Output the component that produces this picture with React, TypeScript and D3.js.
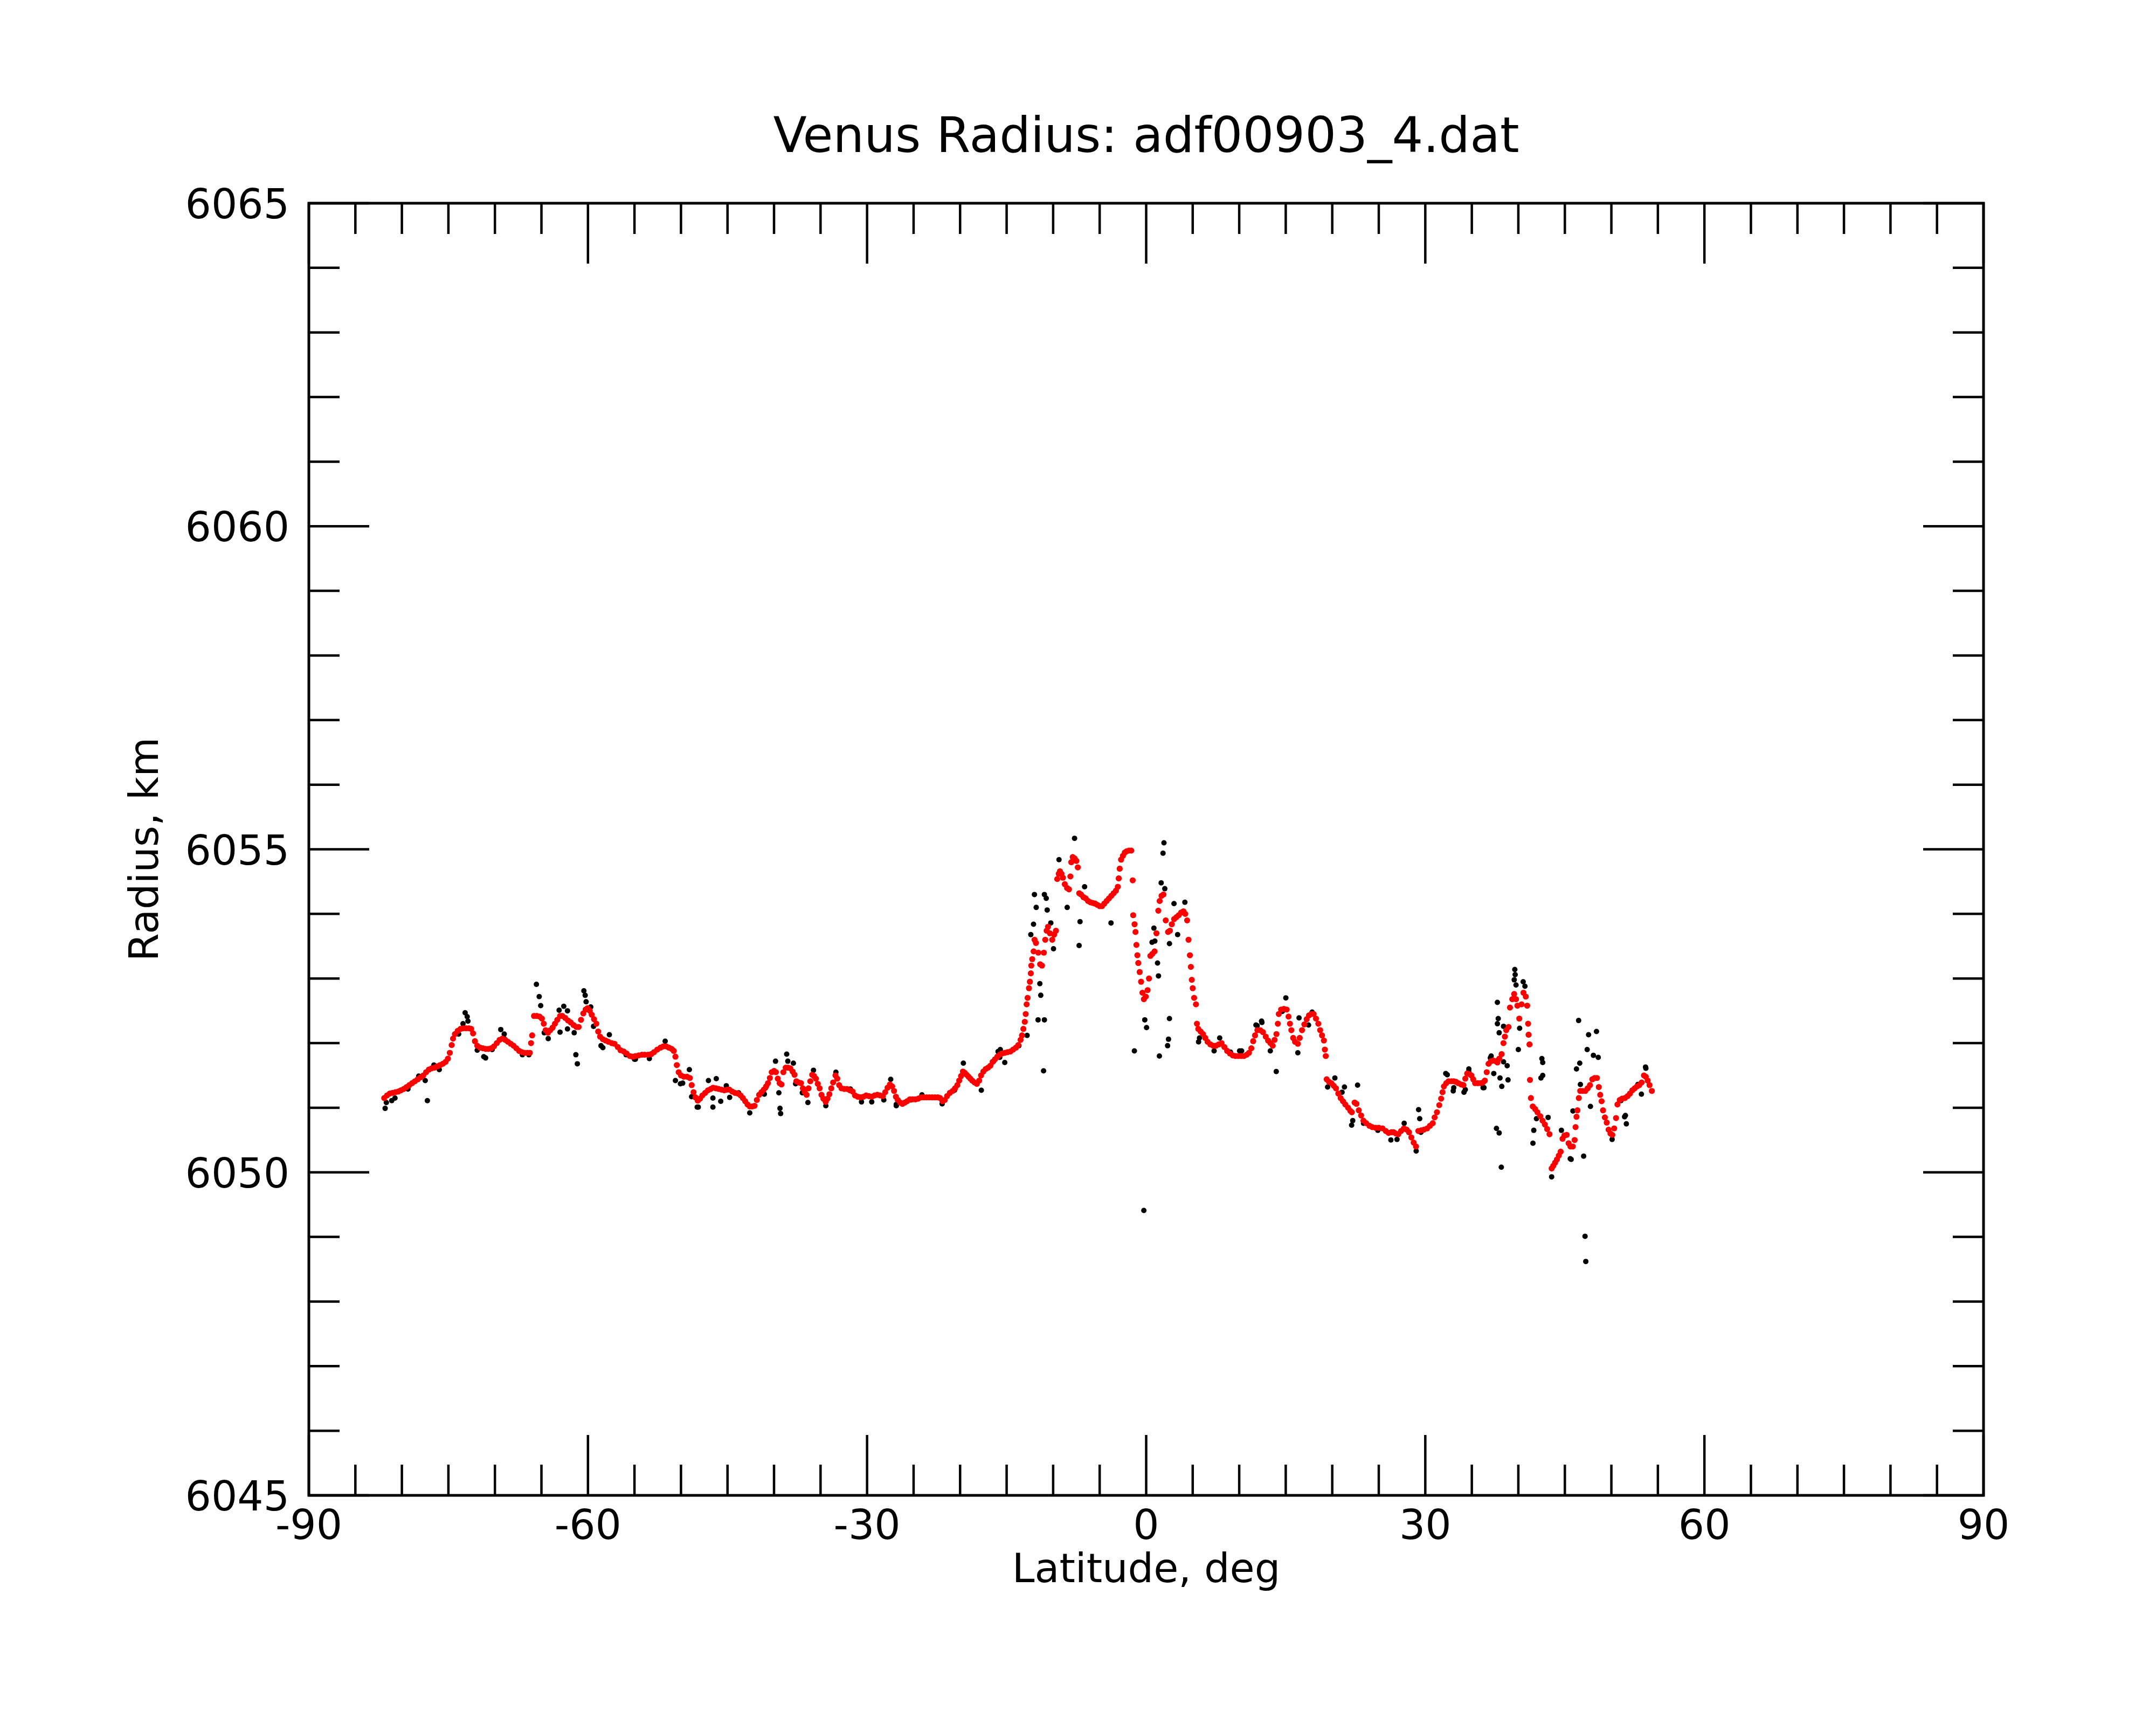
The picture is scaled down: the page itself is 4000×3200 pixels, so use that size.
import React from 'react';
import * as d3 from 'd3';

// smoothed radius (red), [latitude deg, radius km]
const smoothSouth: [number, number][] = [
  [-81.9, 6051.15], [-81.6, 6051.19], [-81.3, 6051.22], [-81.0, 6051.23], [-80.7, 6051.24], [-80.4, 6051.25],
  [-80.1, 6051.27], [-79.8, 6051.29], [-79.5, 6051.32], [-79.2, 6051.35], [-78.9, 6051.38], [-78.6, 6051.41],
  [-78.3, 6051.44], [-78.0, 6051.47], [-77.7, 6051.5], [-77.4, 6051.55], [-77.1, 6051.59], [-76.8, 6051.61],
  [-76.5, 6051.62], [-76.2, 6051.64], [-75.9, 6051.66], [-75.6, 6051.68], [-75.3, 6051.71], [-75.05, 6051.76],
  [-74.85, 6051.85], [-74.65, 6051.97], [-74.5, 6052.07], [-74.3, 6052.14], [-74.0, 6052.19], [-73.7, 6052.22],
  [-73.4, 6052.23], [-73.1, 6052.23], [-72.8, 6052.23], [-72.55, 6052.22], [-72.35, 6052.15], [-72.15, 6052.03],
  [-71.9, 6051.96], [-71.6, 6051.93], [-71.3, 6051.92], [-71.0, 6051.91], [-70.7, 6051.91], [-70.4, 6051.92],
  [-70.1, 6051.95], [-69.8, 6052.0], [-69.5, 6052.05], [-69.2, 6052.07], [-68.9, 6052.05], [-68.6, 6052.02],
  [-68.3, 6051.99], [-68.0, 6051.96], [-67.7, 6051.92], [-67.4, 6051.88], [-67.1, 6051.86], [-66.8, 6051.85],
  [-66.5, 6051.85], [-66.25, 6051.85], [-66.12, 6052.0], [-66.0, 6052.12], [-65.8, 6052.42], [-65.5, 6052.42],
  [-65.2, 6052.41], [-64.95, 6052.38], [-64.75, 6052.3], [-64.55, 6052.2], [-64.3, 6052.16], [-64.05, 6052.2],
  [-63.8, 6052.24], [-63.55, 6052.3], [-63.3, 6052.36], [-63.0, 6052.42], [-62.75, 6052.42], [-62.45, 6052.39],
  [-62.15, 6052.35], [-61.85, 6052.32], [-61.55, 6052.28], [-61.25, 6052.25], [-61.0, 6052.25], [-60.75, 6052.36],
  [-60.5, 6052.46], [-60.25, 6052.52], [-60.05, 6052.54], [-59.8, 6052.5], [-59.6, 6052.44], [-59.35, 6052.37],
  [-59.1, 6052.3], [-58.9, 6052.18], [-58.7, 6052.1], [-58.4, 6052.06], [-58.1, 6052.04], [-57.8, 6052.02],
  [-57.45, 6052.0], [-57.15, 6051.99], [-56.8, 6051.94], [-56.5, 6051.89], [-56.15, 6051.87], [-55.85, 6051.84],
  [-55.5, 6051.8], [-55.2, 6051.79], [-54.9, 6051.8], [-54.55, 6051.81], [-54.2, 6051.82], [-53.9, 6051.82],
  [-53.55, 6051.82], [-53.2, 6051.83], [-52.9, 6051.86], [-52.55, 6051.9], [-52.2, 6051.93], [-51.9, 6051.95],
  [-51.6, 6051.95], [-51.3, 6051.93], [-51.0, 6051.91], [-50.78, 6051.88], [-50.6, 6051.79], [-50.45, 6051.66],
  [-50.25, 6051.55], [-50.0, 6051.5], [-49.7, 6051.48], [-49.35, 6051.48], [-49.05, 6051.46], [-48.85, 6051.35],
  [-48.65, 6051.24], [-48.45, 6051.16], [-48.2, 6051.11], [-47.95, 6051.14], [-47.7, 6051.19], [-47.4, 6051.23],
  [-47.1, 6051.27], [-46.8, 6051.29], [-46.55, 6051.31], [-46.25, 6051.3], [-45.95, 6051.29], [-45.65, 6051.28],
  [-45.35, 6051.27], [-45.05, 6051.28], [-44.8, 6051.28], [-44.5, 6051.25], [-44.2, 6051.23], [-43.9, 6051.22],
  [-43.6, 6051.19], [-43.35, 6051.15], [-43.1, 6051.1], [-42.85, 6051.05], [-42.6, 6051.02], [-42.35, 6051.02],
  [-42.1, 6051.03], [-41.85, 6051.12], [-41.6, 6051.2], [-41.35, 6051.24], [-41.1, 6051.28], [-40.85, 6051.33],
  [-40.65, 6051.38], [-40.45, 6051.46], [-40.25, 6051.55], [-40.0, 6051.57], [-39.8, 6051.55], [-39.6, 6051.45],
  [-39.4, 6051.38], [-39.2, 6051.36], [-39.0, 6051.55], [-38.75, 6051.62], [-38.5, 6051.62], [-38.25, 6051.61],
  [-38.0, 6051.56], [-37.8, 6051.51], [-37.6, 6051.41], [-37.35, 6051.39], [-37.1, 6051.38], [-36.9, 6051.3],
  [-36.7, 6051.24], [-36.5, 6051.2], [-36.3, 6051.3], [-36.1, 6051.41], [-35.9, 6051.51], [-35.7, 6051.49],
  [-35.5, 6051.45], [-35.3, 6051.37], [-35.1, 6051.3], [-34.9, 6051.2], [-34.7, 6051.14], [-34.45, 6051.09],
  [-34.25, 6051.14], [-34.05, 6051.21], [-33.85, 6051.3], [-33.65, 6051.39], [-33.4, 6051.5], [-33.2, 6051.45],
  [-33.0, 6051.35], [-32.75, 6051.3], [-32.45, 6051.29], [-32.15, 6051.29], [-31.85, 6051.27], [-31.55, 6051.25],
  [-31.3, 6051.19], [-31.0, 6051.17], [-30.7, 6051.16], [-30.4, 6051.17], [-30.1, 6051.19], [-29.8, 6051.18],
  [-29.5, 6051.17], [-29.2, 6051.19], [-28.9, 6051.2], [-28.6, 6051.19], [-28.3, 6051.18], [-28.05, 6051.24],
  [-27.8, 6051.31], [-27.55, 6051.36], [-27.3, 6051.33], [-27.1, 6051.26], [-26.9, 6051.17], [-26.7, 6051.12],
  [-26.45, 6051.08], [-26.2, 6051.06], [-25.95, 6051.08], [-25.7, 6051.1], [-25.4, 6051.13], [-25.1, 6051.13],
  [-24.8, 6051.13], [-24.5, 6051.14], [-24.2, 6051.16], [-23.9, 6051.16], [-23.6, 6051.16], [-23.3, 6051.16],
  [-23.0, 6051.16], [-22.7, 6051.16], [-22.4, 6051.16], [-22.15, 6051.15], [-21.9, 6051.1], [-21.65, 6051.12],
  [-21.4, 6051.18], [-21.1, 6051.23], [-20.8, 6051.26], [-20.55, 6051.3], [-20.3, 6051.35], [-20.1, 6051.42],
  [-19.9, 6051.49], [-19.7, 6051.56], [-19.5, 6051.54], [-19.3, 6051.51], [-19.1, 6051.48], [-18.9, 6051.45],
  [-18.7, 6051.42], [-18.45, 6051.39], [-18.2, 6051.37], [-17.95, 6051.42], [-17.75, 6051.5], [-17.5, 6051.56],
  [-17.25, 6051.6], [-17.0, 6051.62], [-16.75, 6051.65], [-16.5, 6051.71], [-16.25, 6051.75], [-16.0, 6051.79],
  [-15.75, 6051.82], [-15.5, 6051.84], [-15.2, 6051.85], [-14.9, 6051.86], [-14.6, 6051.87], [-14.3, 6051.9],
  [-14.0, 6051.93], [-13.75, 6051.97],
];

const smoothEquator: [number, number][] = [
  [-13.5, 6052.05], [-13.35, 6052.12], [-13.2, 6052.22], [-13.05, 6052.33], [-12.95, 6052.45], [-12.85, 6052.6],
  [-12.75, 6052.7], [-12.6, 6052.85], [-12.5, 6052.95], [-12.4, 6053.08], [-12.35, 6053.2], [-12.25, 6053.3],
  [-12.1, 6053.42], [-12.0, 6053.6], [-11.85, 6053.55], [-11.6, 6053.4], [-11.4, 6053.22], [-11.2, 6053.2],
  [-11.0, 6053.4], [-10.85, 6053.6], [-10.7, 6053.74], [-10.55, 6053.8], [-10.35, 6053.7], [-10.1, 6053.6],
  [-9.9, 6053.68], [-9.7, 6053.74], [-9.56, 6054.54], [-9.4, 6054.62], [-9.27, 6054.66], [-9.1, 6054.62],
  [-8.95, 6054.56], [-8.75, 6054.46], [-8.5, 6054.4], [-8.3, 6054.38], [-8.15, 6054.58], [-8.05, 6054.8],
  [-7.9, 6054.88], [-7.7, 6054.86], [-7.5, 6054.82], [-7.35, 6054.72], [-7.2, 6054.32], [-7.0, 6054.3],
  [-6.75, 6054.26], [-6.5, 6054.24], [-6.25, 6054.2], [-6.0, 6054.18], [-5.75, 6054.17], [-5.5, 6054.16],
  [-5.25, 6054.14], [-5.0, 6054.12], [-4.75, 6054.12], [-4.5, 6054.16], [-4.25, 6054.2], [-4.0, 6054.24],
  [-3.75, 6054.28], [-3.5, 6054.32], [-3.25, 6054.36], [-3.05, 6054.42], [-2.95, 6054.55], [-2.85, 6054.7],
  [-2.7, 6054.84], [-2.5, 6054.9], [-2.3, 6054.95], [-2.1, 6054.97], [-1.85, 6054.98], [-1.6, 6054.98],
  [-1.45, 6054.52], [-1.4, 6053.98], [-1.25, 6053.84], [-1.15, 6053.72], [-1.05, 6053.52], [-0.95, 6053.36],
  [-0.85, 6053.24], [-0.7, 6053.1], [-0.55, 6052.95], [-0.4, 6052.78], [-0.25, 6052.68], [-0.05, 6052.72],
  [0.15, 6052.82], [0.3, 6053.0], [0.45, 6053.35], [0.65, 6053.38], [0.9, 6053.42], [1.1, 6053.7],
  [1.3, 6054.05], [1.45, 6054.2], [1.65, 6054.28], [1.85, 6054.3], [2.1, 6053.9], [2.35, 6053.72],
  [2.55, 6053.74], [2.75, 6053.84], [3.0, 6053.92], [3.25, 6053.95], [3.5, 6053.98], [3.75, 6054.02],
  [4.0, 6054.04], [4.2, 6054.0], [4.4, 6053.9], [4.55, 6053.6], [4.7, 6053.36], [4.8, 6053.18],
  [4.9, 6052.98], [5.0, 6052.85], [5.15, 6052.7], [5.35, 6052.6], [5.45, 6052.3], [5.6, 6052.22],
  [5.85, 6052.18], [6.1, 6052.14], [6.35, 6052.08], [6.6, 6052.02], [6.9, 6051.98], [7.2, 6051.96],
  [7.5, 6051.96], [7.8, 6051.98], [8.1, 6052.0], [8.4, 6051.94], [8.7, 6051.88], [9.0, 6051.84],
  [9.3, 6051.81], [9.6, 6051.8], [9.9, 6051.8], [10.2, 6051.8], [10.5, 6051.8], [10.8, 6051.82],
  [11.05, 6051.85], [11.3, 6051.92], [11.5, 6052.03], [11.7, 6052.12], [11.95, 6052.2], [12.25, 6052.2],
  [12.55, 6052.17], [12.85, 6052.1], [13.1, 6052.04], [13.35, 6052.0], [13.6, 6051.96], [13.8, 6052.05],
  [14.0, 6052.14], [14.15, 6052.3], [14.25, 6052.45], [14.5, 6052.52], [14.8, 6052.53], [15.1, 6052.52],
  [15.3, 6052.41], [15.45, 6052.3], [15.6, 6052.2], [15.8, 6052.08], [16.0, 6052.02], [16.3, 6051.99],
  [16.5, 6052.08], [16.75, 6052.2], [17.0, 6052.29], [17.25, 6052.37], [17.5, 6052.43], [17.75, 6052.45],
  [18.0, 6052.45], [18.25, 6052.38], [18.5, 6052.3], [18.7, 6052.2], [18.9, 6052.12], [19.1, 6052.04],
  [19.2, 6051.9], [19.3, 6051.8],
];

const smoothNorth: [number, number][] = [
  [19.4, 6051.44], [19.65, 6051.4], [19.9, 6051.38], [20.15, 6051.34], [20.4, 6051.3], [20.65, 6051.22],
  [20.9, 6051.15], [21.15, 6051.1], [21.4, 6051.05], [21.7, 6051.0], [21.95, 6050.95], [22.1, 6050.93],
  [22.4, 6051.08], [22.6, 6051.06], [22.85, 6050.96], [23.1, 6050.88], [23.35, 6050.8], [23.65, 6050.76],
  [24.0, 6050.72], [24.3, 6050.7], [24.65, 6050.69], [25.0, 6050.69], [25.4, 6050.68], [25.75, 6050.64],
  [26.05, 6050.61], [26.35, 6050.62], [26.6, 6050.62], [26.85, 6050.6], [27.1, 6050.59], [27.4, 6050.64],
  [27.7, 6050.68], [28.0, 6050.66], [28.25, 6050.62], [28.5, 6050.54], [28.75, 6050.46], [29.0, 6050.4],
  [29.25, 6050.64], [29.55, 6050.65], [29.85, 6050.66], [30.2, 6050.68], [30.5, 6050.72], [30.8, 6050.76],
  [31.0, 6050.85], [31.25, 6050.93], [31.5, 6051.04], [31.7, 6051.14], [31.85, 6051.24], [32.0, 6051.33],
  [32.25, 6051.38], [32.5, 6051.41], [32.8, 6051.41], [33.05, 6051.41], [33.3, 6051.4], [33.55, 6051.38],
  [33.85, 6051.36], [34.1, 6051.35], [34.3, 6051.45], [34.5, 6051.53], [34.75, 6051.52], [34.95, 6051.5],
  [35.15, 6051.44], [35.35, 6051.38], [35.65, 6051.38], [35.95, 6051.38], [36.2, 6051.39], [36.4, 6051.42],
  [36.6, 6051.55], [36.8, 6051.68], [37.05, 6051.72], [37.3, 6051.73], [37.55, 6051.72], [37.75, 6051.7],
  [37.95, 6051.76], [38.2, 6051.83], [38.4, 6052.0], [38.55, 6052.1], [38.7, 6052.2], [38.95, 6052.25],
  [39.1, 6052.55], [39.35, 6052.68], [39.55, 6052.76], [39.75, 6052.68], [39.9, 6052.58], [40.1, 6052.38],
  [40.35, 6052.6], [40.55, 6052.78], [40.8, 6052.72], [40.95, 6052.58], [41.05, 6052.3], [41.1, 6052.13],
  [41.2, 6051.98], [41.25, 6051.43], [41.35, 6051.15], [41.55, 6051.02], [41.8, 6050.98], [42.05, 6050.93],
  [42.35, 6050.87], [42.6, 6050.8], [42.85, 6050.74], [43.1, 6050.67], [43.35, 6050.59], [43.58, 6050.06],
  [43.75, 6050.1], [43.95, 6050.15], [44.15, 6050.2], [44.35, 6050.26], [44.55, 6050.32], [44.75, 6050.52],
  [44.95, 6050.57], [45.2, 6050.58], [45.4, 6050.45], [45.6, 6050.4], [45.85, 6050.4], [46.05, 6050.5],
  [46.15, 6050.7], [46.25, 6050.86], [46.35, 6050.96], [46.5, 6051.15], [46.65, 6051.26], [46.9, 6051.26],
  [47.2, 6051.26], [47.45, 6051.3], [47.7, 6051.35], [47.95, 6051.44], [48.2, 6051.46], [48.45, 6051.46],
  [48.65, 6051.32], [48.8, 6051.2], [48.95, 6051.1], [49.1, 6050.96], [49.3, 6050.85], [49.5, 6050.77],
  [49.7, 6050.66], [49.9, 6050.6], [50.1, 6050.58], [50.3, 6050.68], [50.5, 6050.84], [50.65, 6051.05],
  [50.9, 6051.12], [51.15, 6051.14], [51.45, 6051.15], [51.75, 6051.18], [52.0, 6051.22], [52.25, 6051.27],
  [52.5, 6051.3], [52.75, 6051.33], [53.0, 6051.35], [53.25, 6051.39], [53.5, 6051.5], [53.7, 6051.48],
  [53.9, 6051.42], [54.1, 6051.35], [54.35, 6051.26],
];

// raw radius (black) that stands off the smoothed trace
const rawOutliers: [number, number][] = [
  [-81.8, 6050.99], [-77.26, 6051.11], [-73.2, 6052.47], [-72.98, 6052.41], [-72.9, 6052.34], [-73.43, 6052.3],
  [-71.2, 6051.79], [-69.37, 6052.21], [-69.0, 6052.14], [-65.54, 6052.91], [-65.24, 6052.72], [-65.08, 6052.58],
  [-64.27, 6052.07], [-63.0, 6052.17], [-63.1, 6052.51], [-62.6, 6052.57], [-62.2, 6052.5], [-61.48, 6052.16],
  [-61.3, 6051.82], [-61.14, 6051.68], [-60.44, 6052.81], [-60.3, 6052.74], [-60.2, 6052.64], [-59.7, 6052.56],
  [-59.4, 6052.26], [-58.4, 6051.93], [-57.7, 6052.13], [-55.0, 6051.75], [-51.7, 6052.03],
  [-49.82, 6051.38], [-49.1, 6051.59], [-48.26, 6051.01], [-47.05, 6051.42], [-46.21, 6051.45], [-46.57, 6051.15],
  [-46.57, 6051.01], [-45.73, 6051.1], [-45.13, 6051.34], [-42.61, 6050.92], [-41.04, 6051.21], [-39.84, 6051.72],
  [-38.64, 6051.83], [-38.52, 6051.72], [-37.92, 6051.69], [-39.48, 6051.23], [-39.36, 6050.99], [-39.29, 6050.91],
  [-36.36, 6051.08], [-35.76, 6051.58], [-33.35, 6051.55], [-27.46, 6051.44], [-26.86, 6051.05], [-19.65, 6051.69],
  [-17.72, 6051.27], [-15.68, 6051.9], [-15.2, 6051.7],
  [-7.7, 6055.17], [-9.37, 6054.84], [-12.01, 6054.3], [-11.82, 6054.1], [-10.94, 6054.3], [-10.74, 6054.24],
  [-10.64, 6054.06], [-12.11, 6053.84], [-10.25, 6053.86], [-9.96, 6053.46], [-11.43, 6052.92], [-11.33, 6052.74],
  [-11.62, 6052.36], [-10.94, 6052.36], [-12.8, 6052.12], [-11.03, 6051.57], [-8.49, 6054.1], [-6.62, 6054.42],
  [-7.11, 6053.88], [-7.21, 6053.51], [-3.78, 6053.86], [-12.4, 6053.68], [1.61, 6054.48], [1.91, 6055.1],
  [1.81, 6054.94], [2.0, 6054.39], [0.83, 6053.78], [0.63, 6053.56], [0.93, 6053.58], [1.22, 6053.24],
  [1.32, 6053.04], [2.5, 6053.54], [2.5, 6052.38], [-0.15, 6052.36], [0.04, 6052.24], [2.4, 6052.06],
  [2.3, 6051.96], [1.42, 6051.8], [-1.27, 6051.88], [-0.25, 6049.41], [2.99, 6054.16], [4.16, 6054.18],
  [3.38, 6053.68], [5.63, 6052.02], [12.4, 6052.34],
  [15.01, 6052.7], [12.44, 6052.32], [13.34, 6051.88], [13.98, 6051.56], [16.3, 6051.85], [17.45, 6052.28],
  [22.72, 6051.35], [21.31, 6051.32], [22.08, 6050.73], [29.28, 6050.97], [29.4, 6050.83], [27.73, 6050.76],
  [39.62, 6053.14], [39.66, 6053.06], [39.56, 6052.98], [39.75, 6052.9], [40.52, 6052.95], [40.71, 6052.88],
  [37.75, 6052.63], [37.84, 6052.38], [37.75, 6052.3], [37.94, 6052.16], [38.41, 6052.26], [40.14, 6052.23],
  [40.0, 6051.9], [38.41, 6051.71], [38.8, 6051.65], [37.36, 6051.53], [38.03, 6051.46], [38.89, 6051.43],
  [38.22, 6051.33], [42.53, 6051.76], [42.62, 6051.7], [42.62, 6051.5], [42.43, 6051.46], [37.65, 6050.68],
  [37.94, 6050.61], [38.17, 6050.08], [41.66, 6050.65], [41.57, 6050.45], [46.48, 6052.35], [47.55, 6052.13],
  [48.4, 6052.18], [47.4, 6051.9], [48.07, 6051.81], [48.59, 6051.78], [46.6, 6051.69], [46.25, 6051.6],
  [46.67, 6051.36], [47.75, 6051.02], [47.02, 6050.25], [45.58, 6050.21], [45.87, 6050.95], [47.17, 6049.01],
  [47.25, 6048.62], [51.61, 6050.75], [51.51, 6050.88], [53.67, 6051.63], [53.23, 6051.21], [50.08, 6050.51],
  [43.58, 6049.93], [45.68, 6050.2],
];

// raw radius (black) lying just beside the smoothed trace
const rawNearTrace: [number, number][] = [
  [-81.67, 6051.08], [-81.09, 6051.11], [-80.74, 6051.15], [-79.35, 6051.29], [-78.19, 6051.49], [-77.49, 6051.42],
  [-76.56, 6051.66], [-75.98, 6051.59], [-73.9, 6052.14], [-71.9, 6051.89], [-71.0, 6051.77], [-70.3, 6051.9],
  [-69.0, 6052.07], [-67.05, 6051.82], [-66.35, 6051.82], [-64.7, 6052.16], [-62.2, 6052.22], [-58.6, 6051.96],
  [-55.9, 6051.82], [-54.9, 6051.75], [-53.4, 6051.76], [-50.6, 6051.42],
  [-50.06, 6051.37], [-48.86, 6051.17], [-48.14, 6051.01], [-44.77, 6051.16], [-43.81, 6051.23], [-41.16, 6051.23],
  [-40.9, 6051.31], [-37.68, 6051.37], [-36.96, 6051.23], [-34.43, 6051.03], [-31.8, 6051.29], [-30.6, 6051.09],
  [-29.5, 6051.09], [-28.2, 6051.12], [-26.86, 6051.03], [-25.3, 6051.12], [-24.1, 6051.2], [-21.93, 6051.06],
  [-20.6, 6051.27], [-15.92, 6051.87], [-16.4, 6051.72], [-15.74, 6051.78], [-13.68, 6051.96],
  [5.73, 6052.08], [7.3, 6051.88], [7.9, 6052.08], [9.06, 6051.86], [10.04, 6051.88], [11.8, 6052.28],
  [10.26, 6051.88], [11.93, 6052.27], [14.63, 6052.49], [16.43, 6052.39], [17.84, 6052.48], [19.5, 6051.32],
  [20.28, 6051.46], [21.05, 6051.24], [22.2, 6050.8], [23.36, 6050.76], [24.9, 6050.65], [26.3, 6050.5],
  [26.96, 6050.51], [29.02, 6050.33], [29.53, 6050.62], [32.36, 6051.51], [33.0, 6051.26], [34.16, 6051.24],
  [34.67, 6051.56], [36.21, 6051.31], [36.99, 6051.77], [32.2, 6051.53], [33.06, 6051.31], [34.3, 6051.28],
  [34.68, 6051.6], [36.31, 6051.31], [37.08, 6051.8], [41.95, 6050.83], [43.2, 6050.85], [44.63, 6050.65],
  [51.03, 6051.11], [51.42, 6050.86], [52.85, 6051.36], [53.71, 6051.61],
];

const xMajor = [-90, -60, -30, 0, 30, 60, 90];
const yMajor = [6045, 6050, 6055, 6060, 6065];

const W = 4000;
const H = 3200;
const left = 573, right = 3680, top = 377, bottom = 2774;
const font = 'DejaVu Sans';

export default function App() {
  const x = d3.scaleLinear().domain([-90, 90]).range([left, right]);
  const y = d3.scaleLinear().domain([6045, 6065]).range([bottom, top]);

  const xMinor = d3.range(-90, 91, 5).filter(v => v % 30 !== 0);
  const yMinor = d3.range(6045, 6066, 1).filter(v => v % 5 !== 0);
  const smooth = [...smoothSouth, ...smoothEquator, ...smoothNorth];
  const raw = [...rawNearTrace, ...rawOutliers];

  const majLen = 112, minLen = 57;

  return (
    <svg width={W} height={H} style={{ position: 'absolute', left: 0, top: 0, background: '#fff' }}>
      <rect width={W} height={H} fill="#fff" />
      <g stroke="#000" strokeWidth={4.5}>
        {xMajor.map(v => (
          <g key={'xm' + v}>
            <line x1={x(v)} x2={x(v)} y1={bottom} y2={bottom - majLen} />
            <line x1={x(v)} x2={x(v)} y1={top} y2={top + majLen} />
          </g>
        ))}
        {xMinor.map(v => (
          <g key={'xn' + v}>
            <line x1={x(v)} x2={x(v)} y1={bottom} y2={bottom - minLen} />
            <line x1={x(v)} x2={x(v)} y1={top} y2={top + minLen} />
          </g>
        ))}
        {yMajor.map(v => (
          <g key={'ym' + v}>
            <line x1={left} x2={left + majLen} y1={y(v)} y2={y(v)} />
            <line x1={right} x2={right - majLen} y1={y(v)} y2={y(v)} />
          </g>
        ))}
        {yMinor.map(v => (
          <g key={'yn' + v}>
            <line x1={left} x2={left + minLen} y1={y(v)} y2={y(v)} />
            <line x1={right} x2={right - minLen} y1={y(v)} y2={y(v)} />
          </g>
        ))}
      </g>
      <rect x={left} y={top} width={right - left} height={bottom - top} fill="none" stroke="#000" strokeWidth={5} />

      <g fill="#000">
        {raw.map((d, i) => (
          <circle key={'r' + i} cx={x(d[0])} cy={y(d[1])} r={5} />
        ))}
      </g>
      <g fill="#ff0000">
        {smooth.map((d, i) => (
          <circle key={'s' + i} cx={x(d[0])} cy={y(d[1])} r={5.6} />
        ))}
      </g>

      <g fontFamily={font} fontSize={76} fill="#000">
        {xMajor.map(v => (
          <text key={'xl' + v} x={x(v)} y={bottom + 81} textAnchor="middle">{v}</text>
        ))}
        {yMajor.map(v => (
          <text key={'yl' + v} x={left - 36} y={y(v) + 28} textAnchor="end">{v}</text>
        ))}
      </g>
      <g fontFamily={font} fontSize={75} fill="#000">
        <text x={(left + right) / 2} y={2935} textAnchor="middle">Latitude, deg</text>
        <text transform={`translate(293, ${(top + bottom) / 2}) rotate(-90)`} textAnchor="middle">Radius, km</text>
      </g>
      <text x={(left + right) / 2} y={282} textAnchor="middle" fontFamily={font} fontSize={91} fill="#000">
        Venus Radius: adf00903_4.dat
      </text>
    </svg>
  );
}
